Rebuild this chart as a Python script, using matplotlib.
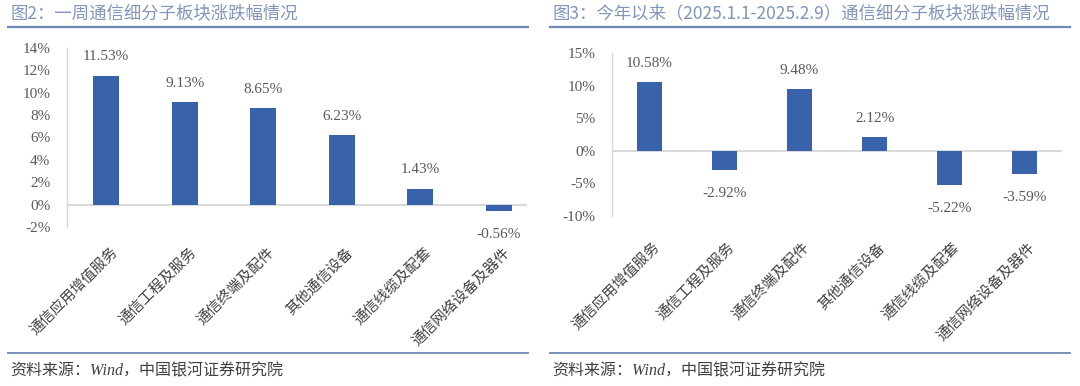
import matplotlib
matplotlib.use("Agg")
import matplotlib.pyplot as plt
import matplotlib.transforms as mtransforms
from matplotlib.lines import Line2D

# ---- data ----
categories = ["通信应用增值服务", "通信工程及服务", "通信终端及配件",
              "其他通信设备", "通信线缆及配套", "通信网络设备及器件"]
week_values = [11.53, 9.13, 8.65, 6.23, 1.43, -0.56]
ytd_values = [10.58, -2.92, 9.48, 2.12, -5.22, -3.59]
left_ticks = [-2, 0, 2, 4, 6, 8, 10, 12, 14]
right_ticks = [-10, -5, 0, 5, 10, 15]
title_left = "图2：一周通信细分子板块涨跌幅情况"
title_right = "图3：今年以来（2025.1.1-2025.2.9）通信细分子板块涨跌幅情况"
source_text = "资料来源：Wind，中国银河证券研究院"

W, H = 1080, 386
fig = plt.figure(figsize=(W / 100, H / 100), dpi=100)
fig.patch.set_facecolor("white")

BAR = "#3863AA"
LABEL = "#595959"
TITLE_C = "#8094BC"
LINE_C = "#7088B8"
GRID_C = "#D9D9D9"
NUM_FONT = ["Liberation Serif", "Noto Sans CJK SC"]
CJK_FONT = ["Noto Sans CJK SC", "DejaVu Sans"]


def px_axes(x0, y_top, x1, y_bot):
    return fig.add_axes([x0 / W, 1 - y_bot / H, (x1 - x0) / W, (y_bot - y_top) / H])


def draw_panel(ax, values, ticks, ylim, xright, lab_dy, fmt_tick, up_off, down_off, lab_dx):
    n = len(values)
    xs = list(range(n))
    ax.bar(xs, values, width=0.33, color=BAR, zorder=3)
    ax.set_xlim(-0.5, xright)
    ax.set_ylim(*ylim)
    ax.set_yticks(ticks)
    ax.set_yticklabels([fmt_tick(t) for t in ticks], fontfamily=NUM_FONT,
                       fontsize=11, color=LABEL)
    ax.tick_params(axis="y", length=0, pad=12)
    ax.tick_params(axis="x", length=0, labelbottom=False)
    for s in ["top", "right", "bottom"]:
        ax.spines[s].set_visible(False)
    ax.spines["left"].set_color(GRID_C)
    ax.spines["left"].set_linewidth(1.0)
    ax.axhline(0, color=GRID_C, lw=1.5, zorder=2)
    ax.set_facecolor("none")
    for x, v in zip(xs, values):
        off = up_off if v >= 0 else -down_off
        ax.annotate(f"{v:.2f}%", (x, v), xytext=(0, off), textcoords="offset points",
                    ha="center", va="center", fontfamily=NUM_FONT, fontsize=11,
                    color=LABEL)
    trans = mtransforms.blended_transform_factory(ax.transData, ax.transAxes)
    for x, c in zip(xs, categories):
        t = trans + mtransforms.ScaledTranslation(lab_dx / 100, -lab_dy / 100, fig.dpi_scale_trans)
        ax.text(x, 0, c, transform=t, rotation=45, rotation_mode="anchor",
                ha="right", va="top", fontfamily=CJK_FONT, fontsize=10.5,
                color="#404040")


# left panel
axL = px_axes(67, 48, 527, 227)
draw_panel(axL, week_values, left_ticks, (-2, 14), 5.36, 18,
           lambda t: f"{t}%", 13.5, 17, 4)
# right panel
axR = px_axes(612, 53, 1062, 216)
draw_panel(axR, ytd_values, right_ticks, (-10, 15), 5.5, 24,
           lambda t: f"{t}%", 13.5, 17, 3)

# titles, rules and sources
for (x0, x1, title) in [(8, 528, title_left), (550, 1070, title_right)]:
    fig.text((x0 + 2) / W, 1 - 13 / H, title, ha="left", va="center",
             fontfamily=CJK_FONT, fontsize=12.5, color=TITLE_C)
    fig.add_artist(Line2D([x0 / W, x1 / W], [1 - 27 / H, 1 - 27 / H],
                          color=LINE_C, lw=1.6, transform=fig.transFigure))
    fig.add_artist(Line2D([x0 / W, x1 / W], [1 - 353 / H, 1 - 353 / H],
                          color=LINE_C, lw=1.3, transform=fig.transFigure))
    fig.text((x0 + 2) / W, 1 - 371 / H, source_text, ha="left", va="center",
             fontfamily=NUM_FONT, fontstyle="italic", fontsize=11.5, color="#404040")

fig.savefig("out.png", dpi=100, facecolor="white")
